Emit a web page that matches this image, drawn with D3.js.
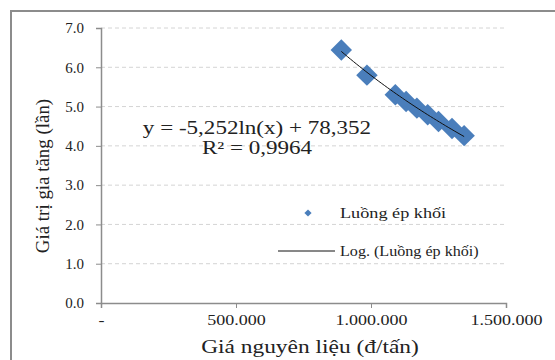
<!DOCTYPE html>
<html>
<head>
<meta charset="utf-8">
<script src="https://cdn.jsdelivr.net/npm/d3@7"></script>
<style>
  body { margin: 0; background: #fff; }
  text { font-family: "Liberation Serif", "DejaVu Serif", serif; fill: #222; }
</style>
</head>
<body>
<div id="chart"></div>
<script>
// data
var priceValues = [890000, 985000, 1090000, 1130000, 1170000, 1210000, 1250000, 1300000, 1345000];
var ratioValues = [6.44, 5.80, 5.30, 5.13, 4.96, 4.79, 4.62, 4.44, 4.26];

// trendline y = a*ln(x) + b, as printed on the chart
var trendCoef = [-5.252, 78.352];
var trendLabels = ["y = -5,252ln(x) + 78,352", "R² = 0,9964"];

var xTicks = [0, 500000, 1000000, 1500000];
var xTickLabels = ["-", "500.000", "1.000.000", "1.500.000"];
var yTicks = [0, 1, 2, 3, 4, 5, 6, 7];
var yTickLabels = ["0.0", "1.0", "2.0", "3.0", "4.0", "5.0", "6.0", "7.0"];

var seriesName = "Luồng ép khối";
var trendName = "Log. (Luồng ép khối)";
var xTitle = "Giá nguyên liệu (đ/tấn)";
var yTitle = "Giá trị gia tăng (lần)";

var W = 555, H = 360;
var margin = {top: 28, right: 49, bottom: 57, left: 101};
var width = W - margin.left - margin.right,
    height = H - margin.top - margin.bottom;

// the source picture is stretched sideways, so widen text a bit
function stretch(sel, k) {
  sel.each(function() {
    var len = this.getComputedTextLength();
    if (len > 0) {
      d3.select(this)
        .attr("textLength", len * k)
        .attr("lengthAdjust", "spacingAndGlyphs");
    }
  });
}

var root = d3.select("#chart").append("svg")
  .attr("width", W)
  .attr("height", H);

// outer chart frame (right / bottom edges run off the picture)
root.append("rect")
  .attr("x", 11).attr("y", 11)
  .attr("width", 600).attr("height", 400)
  .attr("fill", "none")
  .attr("stroke", "#8c8c8c")
  .attr("stroke-width", 2);

var svg = root.append("g")
  .attr("transform", "translate(" + margin.left + "," + margin.top + ")");

var x = d3.scaleLinear().domain([0, 1500000]).range([0, width]);
var y = d3.scaleLinear().domain([0, 7]).range([height, 0]);

// dashed gridlines
svg.append("g")
  .selectAll("line")
  .data(yTicks.filter(function(d) { return d > 0; }))
  .enter().append("line")
    .attr("x1", 0).attr("x2", width)
    .attr("y1", function(d) { return y(d); })
    .attr("y2", function(d) { return y(d); })
    .attr("stroke", "#d4d4d4")
    .attr("stroke-dasharray", "4,3");

// axes
var yAxis = svg.append("g")
  .call(d3.axisLeft(y).tickValues(yTicks).tickSize(5)
    .tickFormat(function(d, i) { return yTickLabels[i]; }));
var xAxis = svg.append("g")
  .attr("transform", "translate(0," + height + ")")
  .call(d3.axisBottom(x).tickValues(xTicks).tickSize(5)
    .tickFormat(function(d, i) { return xTickLabels[i]; }));

[xAxis, yAxis].forEach(function(a) {
  a.select(".domain").attr("stroke", "#8c8c8c").attr("stroke-width", 1.5);
  a.selectAll(".tick line").attr("stroke", "#8c8c8c");
  a.selectAll(".tick text")
    .style("font-family", "Liberation Serif, serif")
    .style("font-size", "15px")
    .attr("fill", "#222");
});
yAxis.selectAll(".tick text").attr("x", -17);
xAxis.selectAll(".tick text").attr("y", 11);
stretch(xAxis.selectAll(".tick text"), 1.2);

// markers
var points = priceValues.map(function(v, i) { return {x: v, y: ratioValues[i]}; });
var diamond = d3.symbol().type(d3.symbolSquare).size(230);

svg.append("g")
  .selectAll("path")
  .data(points)
  .enter().append("path")
    .attr("d", diamond)
    .attr("transform", function(d) {
      return "translate(" + x(d.x) + "," + y(d.y) + ") rotate(45)";
    })
    .attr("fill", "#4A7EBB");

// log trendline over the data range
var xMin = d3.min(priceValues), xMax = d3.max(priceValues);
var trendX = d3.range(xMin, xMax + 1, (xMax - xMin) / 40);
var trendLine = d3.line()
  .x(function(d) { return x(d); })
  .y(function(d) { return y(trendCoef[0] * Math.log(d) + trendCoef[1]); });

svg.append("path")
  .datum(trendX)
  .attr("d", trendLine)
  .attr("fill", "none")
  .attr("stroke", "#111")
  .attr("stroke-width", 1);

// equation label
var eq = svg.append("g")
  .selectAll("text")
  .data(trendLabels)
  .enter().append("text")
    .attr("x", 156)
    .attr("y", function(d, i) { return 106 + i * 20; })
    .attr("text-anchor", "middle")
    .style("font-size", "18px")
    .text(function(d) { return d; });
stretch(eq, 1.28);

// legend
var legend = root.append("g");
legend.append("path")
  .attr("d", d3.symbol().type(d3.symbolSquare).size(26))
  .attr("transform", "translate(308,213) rotate(45)")
  .attr("fill", "#4A7EBB");
legend.append("text")
  .attr("x", 340).attr("y", 218)
  .style("font-size", "14px")
  .text(seriesName)
  .call(stretch, 1.3);
legend.append("line")
  .attr("x1", 278).attr("x2", 335)
  .attr("y1", 251).attr("y2", 251)
  .attr("stroke", "#111");
legend.append("text")
  .attr("x", 340).attr("y", 256)
  .style("font-size", "14px")
  .text(trendName)
  .call(stretch, 1.15);

// axis titles
root.append("text")
  .attr("x", 310).attr("y", 353)
  .attr("text-anchor", "middle")
  .style("font-size", "18px")
  .text(xTitle)
  .call(stretch, 1.3);
root.append("text")
  .attr("transform", "translate(49,176) rotate(-90)")
  .attr("text-anchor", "middle")
  .style("font-size", "18px")
  .text(yTitle)
  .call(stretch, 1.05);
</script>
</body>
</html>
